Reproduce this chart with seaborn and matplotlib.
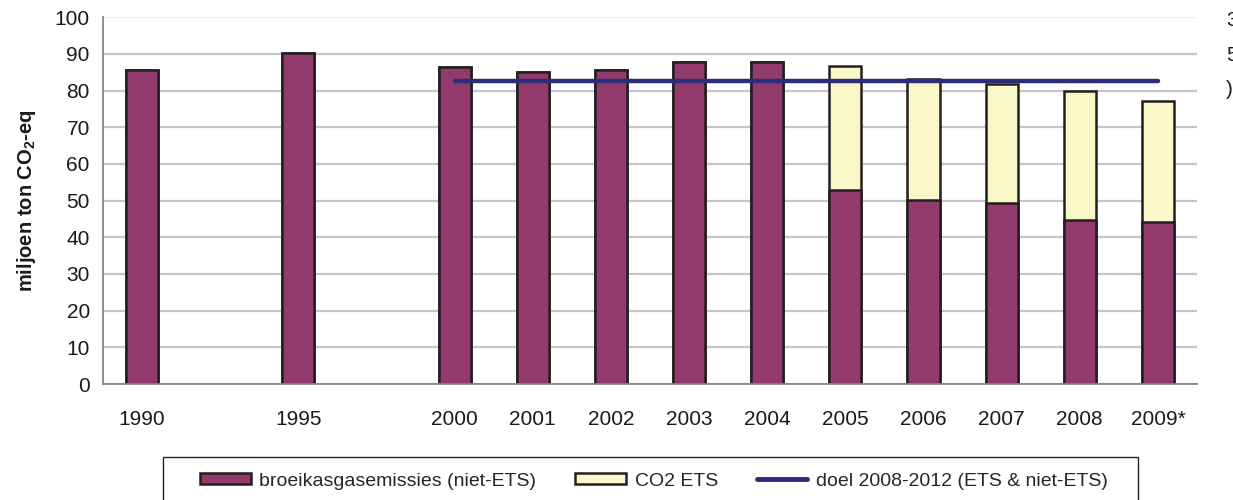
import matplotlib
matplotlib.use("Agg")
import matplotlib.pyplot as plt
import seaborn as sns
import pandas as pd
import numpy as np
from matplotlib.patches import Patch, Rectangle
from matplotlib.lines import Line2D

# categorieen op de x-as (lege plekken tussen 1990, 1995 en 2000)
categories = ["1990", "", "1995", " ", "2000", "2001", "2002", "2003",
              "2004", "2005", "2006", "2007", "2008", "2009*"]

# emissies per jaar (miljoen ton CO2-eq)
years = ["1990", "1995", "2000", "2001", "2002", "2003", "2004",
         "2005", "2006", "2007", "2008", "2009*"]
niet_ets = [85.6, 90.3, 86.4, 85.2, 85.7, 87.7, 87.8,
            53.0, 50.1, 49.4, 44.8, 44.3]
co2_ets = [0.0, 0.0, 0.0, 0.0, 0.0, 0.0, 0.0,
           33.8, 33.2, 32.3, 35.1, 32.8]

# doel 2008-2012
doel_years = ["2000", "2001", "2002", "2003", "2004",
              "2005", "2006", "2007", "2008", "2009*"]
doel = [82.5, 82.5, 82.5, 82.5, 82.5, 82.5, 82.5, 82.5, 82.5, 82.5]

# tekst die aan de rechterkant afgesneden is
cut_texts = ["3", "5", ")"]

col_niet = "#933A6D"
col_ets = "#FAF7C8"
col_doel = "#2D2C78"
col_edge = "#231F20"

df = pd.DataFrame({"jaar": years, "niet_ets": niet_ets, "ets": co2_ets})
df["totaal"] = df["niet_ets"] + df["ets"]

sns.set_style("white")
plt.rcParams["font.family"] = ["Liberation Sans", "DejaVu Sans"]
plt.rcParams["mathtext.fontset"] = "custom"
plt.rcParams["mathtext.rm"] = "Liberation Sans"
plt.rcParams["mathtext.bf"] = "Liberation Sans:bold"

fig = plt.figure(figsize=(12.33, 5), dpi=100)
ax = fig.add_axes([0.0835, 0.232, 0.8873, 0.7334])

# gestapelde staven: eerst totaal (geel), daarna niet-ETS eroverheen
sns.barplot(data=df, x="jaar", y="totaal", order=categories, color=col_ets,
            saturation=1, edgecolor=col_edge, linewidth=1.8, width=0.41,
            errorbar=None, ax=ax)
sns.barplot(data=df, x="jaar", y="niet_ets", order=categories, color=col_niet,
            saturation=1, edgecolor=col_edge, linewidth=1.8, width=0.41,
            errorbar=None, ax=ax)

# doellijn
pos = [categories.index(y) for y in doel_years]
sns.lineplot(x=pos, y=doel, color=col_doel, linewidth=3.2,
             solid_capstyle="round", ax=ax)

ax.set_xlim(-0.5, len(categories) - 0.5)
ax.set_ylim(0, 100)
ax.set_yticks(np.arange(0, 101, 10))
ax.set_xticks(range(len(categories)))
ax.set_xticklabels(categories)
ax.set_xticks(np.arange(-0.5, len(categories), 1), minor=True)

ax.yaxis.grid(True, color="#c6c6c6", linewidth=1.6)
ax.set_axisbelow(True)
ax.get_ygridlines()[-1].set_color("#eeeeee")

for s in ["top", "right"]:
    ax.spines[s].set_visible(False)
for s in ["left", "bottom"]:
    ax.spines[s].set_color("#868686")
    ax.spines[s].set_linewidth(1.3)

ax.tick_params(axis="y", direction="out", length=4.5, width=1.1,
               color="#333333", labelsize=15, pad=5, labelcolor="#1a1a1a")
ax.tick_params(axis="x", which="major", length=0, labelsize=15, pad=19,
               labelcolor="#1a1a1a")
ax.tick_params(axis="x", which="minor", direction="out", length=4.5,
               width=1.1, color="#555555")

ax.set_xlabel("")
ax.set_ylabel(r"miljoen ton CO$_\mathbf{2}$-eq", fontsize=14.5,
              fontweight="bold", labelpad=12, color="#1a1a1a")

handles = [
    Patch(facecolor=col_niet, edgecolor=col_edge, linewidth=1.8),
    Patch(facecolor=col_ets, edgecolor=col_edge, linewidth=1.8),
    Line2D([0], [0], color=col_doel, linewidth=3.5),
]
labels = ["broeikasgasemissies (niet-ETS)", "CO2 ETS",
          "doel 2008-2012 (ETS & niet-ETS)"]
leg = fig.legend(handles, labels, loc="center",
                 bbox_to_anchor=(654 / 1233, 1 - 481 / 500), ncol=3,
                 frameon=False, fontsize=14, handlelength=2.6,
                 handleheight=0.45, handletextpad=0.45, columnspacing=2.0,
                 borderpad=0.0, borderaxespad=0.0)

# kader van de legenda (onderkant valt buiten beeld)
fig.patches.append(Rectangle((163 / 1233, -0.05), (1138 - 163) / 1233,
                             0.05 + 1 - 457 / 500, transform=fig.transFigure,
                             fill=False, edgecolor="#222222", linewidth=1.0))

for i, t in enumerate(cut_texts):
    fig.text(1226 / 1233, 1 - (21 + i * 34.5) / 500, t, fontsize=15,
             va="center", ha="left", color="#1a1a1a")

fig.savefig("out.png", dpi=100)
